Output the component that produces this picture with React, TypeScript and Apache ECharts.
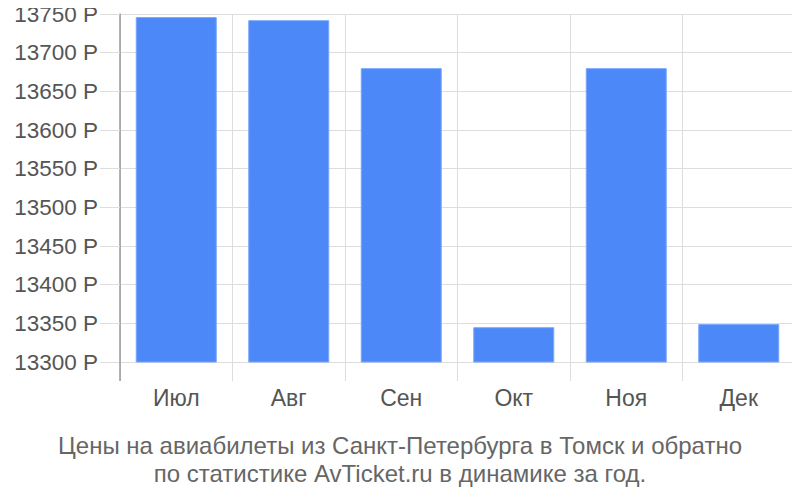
import React, { useEffect, useRef } from "react";
import * as echarts from "echarts";

const categories = ["Июл", "Авг", "Сен", "Окт", "Ноя", "Дек"];
const prices = [13746, 13742, 13680, 13345, 13680, 13349];
const yMin = 13300;
const yMax = 13750;
const yStep = 50;
const titleLines = [
  "Цены на авиабилеты из Санкт-Петербурга в Томск и обратно",
  "по статистике AvTicket.ru в динамике за год.",
];

export default function App() {
  const ref = useRef<HTMLDivElement>(null);
  useEffect(() => {
    if (!ref.current) return;
    const chart = echarts.init(ref.current, null, { renderer: "svg" });
    chart.setOption({
      animation: false,
      textStyle: { fontFamily: "Liberation Sans, Arial, sans-serif" },
      grid: { left: 120, right: 5, top: 14, bottom: 138, containLabel: false },
      title: {
        text: titleLines.join("\n"),
        left: "center",
        top: 426,
        textStyle: {
          fontSize: 24,
          fontWeight: "normal",
          color: "#666",
          lineHeight: 28,
          fontFamily: "Liberation Sans, Arial, sans-serif",
        },
      },
      xAxis: {
        type: "category",
        data: categories,
        axisLine: { show: true, lineStyle: { color: "#ddd", width: 1 } },
        axisTick: { show: true, length: 19, lineStyle: { color: "#ddd" } },
        splitLine: { show: true, lineStyle: { color: "#ddd" } },
        axisLabel: { fontSize: 23, color: "#555", margin: 24 },
      },
      yAxis: {
        type: "value",
        min: yMin,
        max: yMax,
        interval: yStep,
        axisLine: { show: true, lineStyle: { color: "#999", width: 1.5 } },
        axisTick: { show: true, length: 20, lineStyle: { color: "#ddd" } },
        splitLine: { show: true, lineStyle: { color: "#ddd" } },
        axisLabel: {
          fontSize: 22.5,
          color: "#555",
          margin: 22,
          formatter: (v: number) => v + " Р",
        },
      },
      graphic: [
        {
          type: "line",
          shape: { x1: 120, y1: 362, x2: 120, y2: 381 },
          style: { stroke: "#999", lineWidth: 1.5 },
          z: 10,
        },
      ],
      series: [
        {
          type: "bar",
          data: prices,
          barWidth: "72%",
          itemStyle: { color: "#4d88f9", borderColor: "#7aa6fb", borderWidth: 1 },
        },
      ],
    });
    return () => chart.dispose();
  }, []);
  return <div ref={ref} style={{ width: 800, height: 500, marginLeft: -8, marginTop: -8 }} />;
}
